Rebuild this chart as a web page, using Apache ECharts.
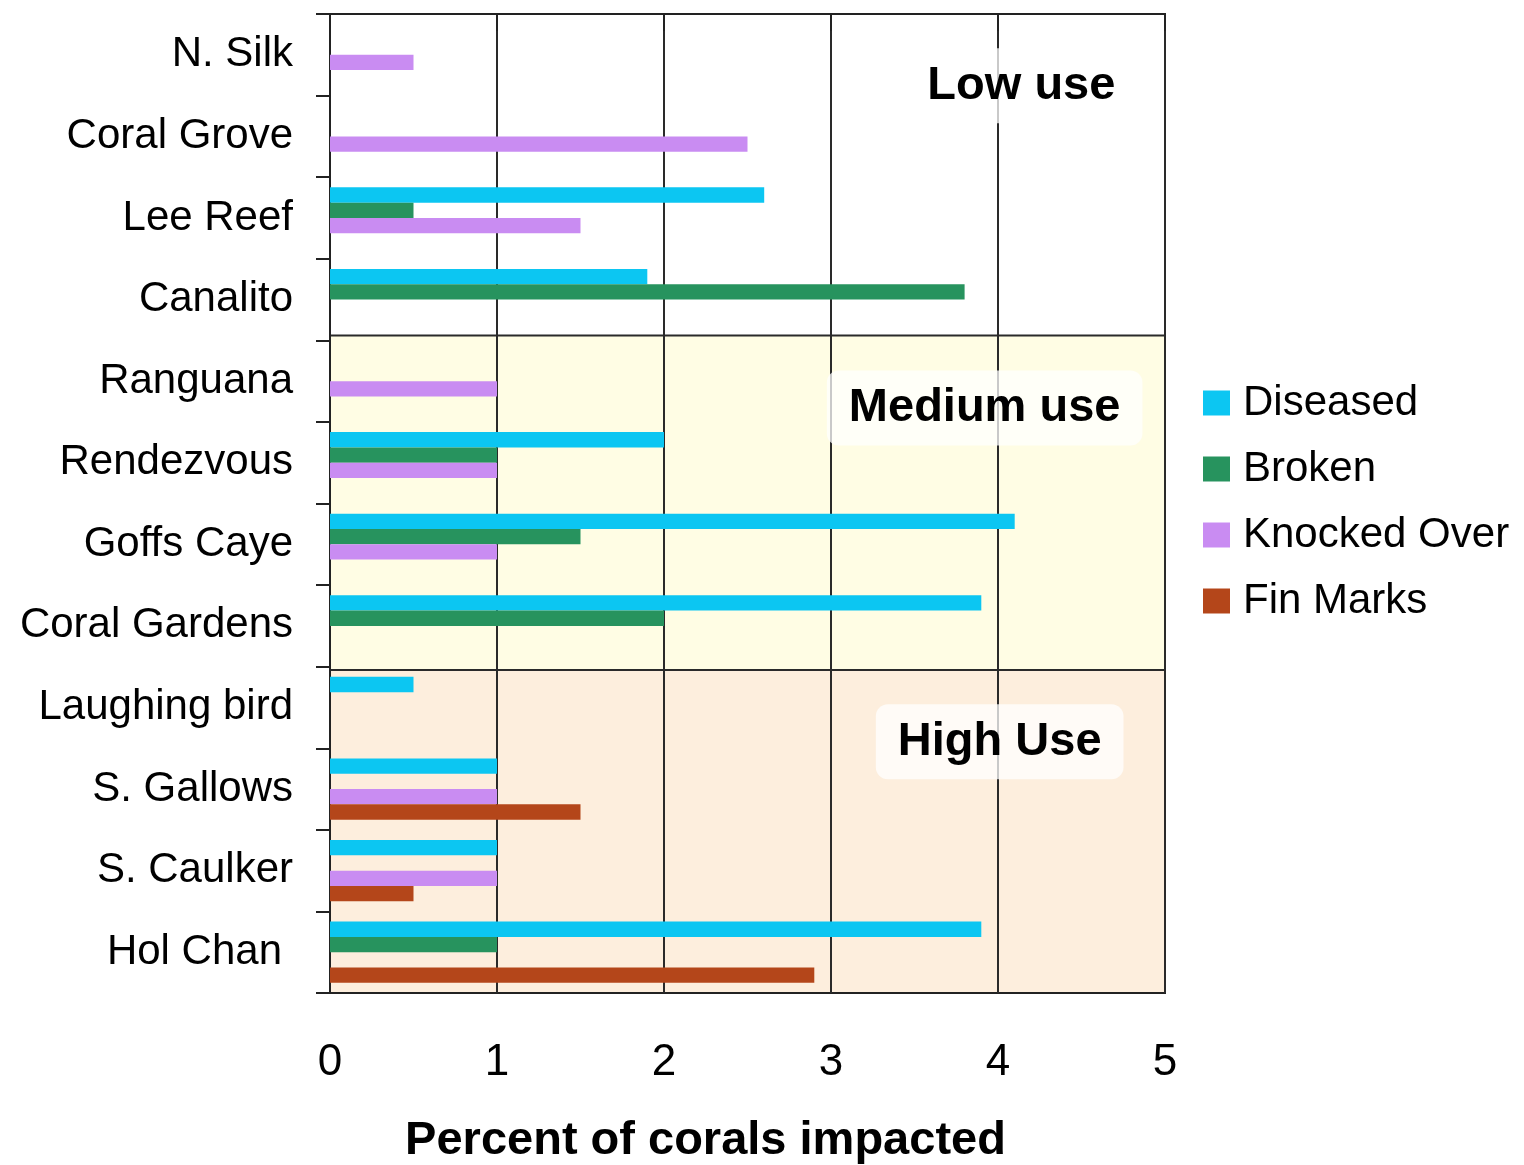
<!DOCTYPE html>
<html><head><meta charset="utf-8">
<script src="https://cdn.jsdelivr.net/npm/echarts@6/dist/echarts.min.js"></script>
<style>html,body{margin:0;padding:0;background:#fff}#c{width:1524px;height:1165px}</style>
</head><body><div id="c"></div>
<script>
// ---- data ----
const sites = ['N. Silk','Coral Grove','Lee Reef','Canalito','Ranguana','Rendezvous','Goffs Caye','Coral Gardens','Laughing bird','S. Gallows','S. Caulker','Hol Chan'];
const diseased    = [0, 0, 2.6, 1.9, 0, 2.0, 4.1, 3.9, 0.5, 1.0, 1.0, 3.9];
const broken      = [0, 0, 0.5, 3.8, 0, 1.0, 1.5, 2.0, 0, 0, 0, 1.0];
const knockedOver = [0.5, 2.5, 1.5, 0, 1.0, 1.0, 1.0, 0, 0, 1.0, 1.0, 0];
const finMarks    = [0, 0, 0, 0, 0, 0, 0, 0, 0, 1.5, 0.5, 2.9];
const seriesNames = ['Diseased','Broken','Knocked Over','Fin Marks'];
const useGroups   = ['Low use','Medium use','High Use'];
const xMin = 0, xMax = 5, xStep = 1;

// ---- layout / style ----
const FONT = 'Arial, "Liberation Sans", Helvetica, sans-serif';
const colors = ['#0cc6f2', '#27935e', '#c98cf2', '#b4461a'];
const sectionSpans = [[0, 3.94], [3.94, 8.04], [8.04, 12]];   // in category units
const sectionFills = ['#ffffff', '#fffde4', '#fdeedd'];
const groupLabelAt = [[4.14, 0.88], [3.92, 4.83], [4.01, 8.92]];

const chart = echarts.init(document.getElementById('c'), null, {renderer: 'canvas'});
const values = [diseased, broken, knockedOver, finMarks];

const barSeries = seriesNames.map((n, i) => ({
  name: n, type: 'bar', xAxisIndex: 0, yAxisIndex: 0,
  data: values[i], barGap: '0%', barCategoryGap: '25%',
  itemStyle: {color: colors[i]}, z: 2
}));

const option = {
  animation: false,
  backgroundColor: '#fff',
  grid: {left: 330, right: 359, top: 14, bottom: 172, containLabel: false, outerBoundsMode: 'none',
    show: true, borderColor: '#222', borderWidth: 2, backgroundColor: 'transparent'},
  legend: {
    data: seriesNames, orient: 'vertical', left: 1198, top: 377,
    itemWidth: 27, itemHeight: 25, itemGap: 24, icon: 'rect',
    textStyle: {fontSize: 42, fontFamily: FONT, color: '#000', lineHeight: 42, padding: [0, 0, 0, 8]}
  },
  xAxis: {
    type: 'value', min: xMin, max: xMax, interval: xStep,
    axisLine: {show: true, lineStyle: {color: '#222', width: 2}},
    axisTick: {show: true, length: 17, lineStyle: {color: '#222', width: 2}},
    axisLabel: {fontSize: 44, fontFamily: FONT, color: '#000', margin: 48},
    splitLine: {show: true, lineStyle: {color: '#2a2a2a', width: 2}},
    name: 'Percent of corals impacted', nameLocation: 'middle', nameGap: 125,
    nameTextStyle: {fontSize: 47, fontWeight: 'bold', fontFamily: FONT, color: '#000', padding: [0, 84, 0, 0]}
  },
  yAxis: [{
    type: 'category', data: sites, inverse: true,
    axisLine: {show: true, lineStyle: {color: '#222', width: 2}},
    axisTick: {show: true, length: 14, lineStyle: {color: '#222', width: 2}},
    axisLabel: {
      fontSize: 42, fontFamily: FONT, color: '#000', margin: 37,
      formatter: v => v === 'Hol Chan' ? '{s|' + v + '}' : v,
      rich: {s: {fontSize: 42, fontFamily: FONT, color: '#000', padding: [0, 11, 0, 0]}}
    },
    splitLine: {show: false}
  }, {
    type: 'value', min: 0, max: 12, inverse: true, show: false
  }],
  series: [
    {
      type: 'custom', name: 'sections', xAxisIndex: 0, yAxisIndex: 1, z: -1, silent: true,
      encode: {x: 2, y: [0, 1]},
      data: sectionSpans.map((s, i) => [s[0], s[1], 0, i]),
      renderItem: (params, api) => {
        const i = params.dataIndex;
        const p0 = api.coord([xMin, api.value(0)]);
        const p1 = api.coord([xMax, api.value(1)]);
        const children = [{
          type: 'rect',
          shape: {x: p0[0], y: p0[1], width: p1[0] - p0[0], height: p1[1] - p0[1]},
          style: {fill: sectionFills[i]}
        }];
        if (i > 0) {
          children.push({type: 'line', shape: {x1: p0[0], y1: p0[1], x2: p1[0], y2: p0[1]},
            style: {stroke: '#2a2a2a', lineWidth: 2}});
        }
        return {type: 'group', children};
      }
    },
    ...barSeries,
    {
      type: 'custom', name: 'groups', xAxisIndex: 0, yAxisIndex: 1, z: 5, silent: true,
      encode: {x: 0, y: 1},
      data: groupLabelAt.map((p, i) => [p[0], p[1], i]),
      renderItem: (params, api) => {
        const i = params.dataIndex;
        const p = api.coord([api.value(0), api.value(1)]);
        return {
          type: 'text', x: p[0], y: p[1],
          style: {
            text: useGroups[i], fill: '#000',
            font: 'bold 47px ' + FONT,
            align: 'center', verticalAlign: 'middle',
            backgroundColor: 'rgba(255,255,255,0.75)', padding: [14, 22], borderRadius: 12
          }
        };
      }
    }
  ]
};
chart.setOption(option);
</script>
</body></html>
